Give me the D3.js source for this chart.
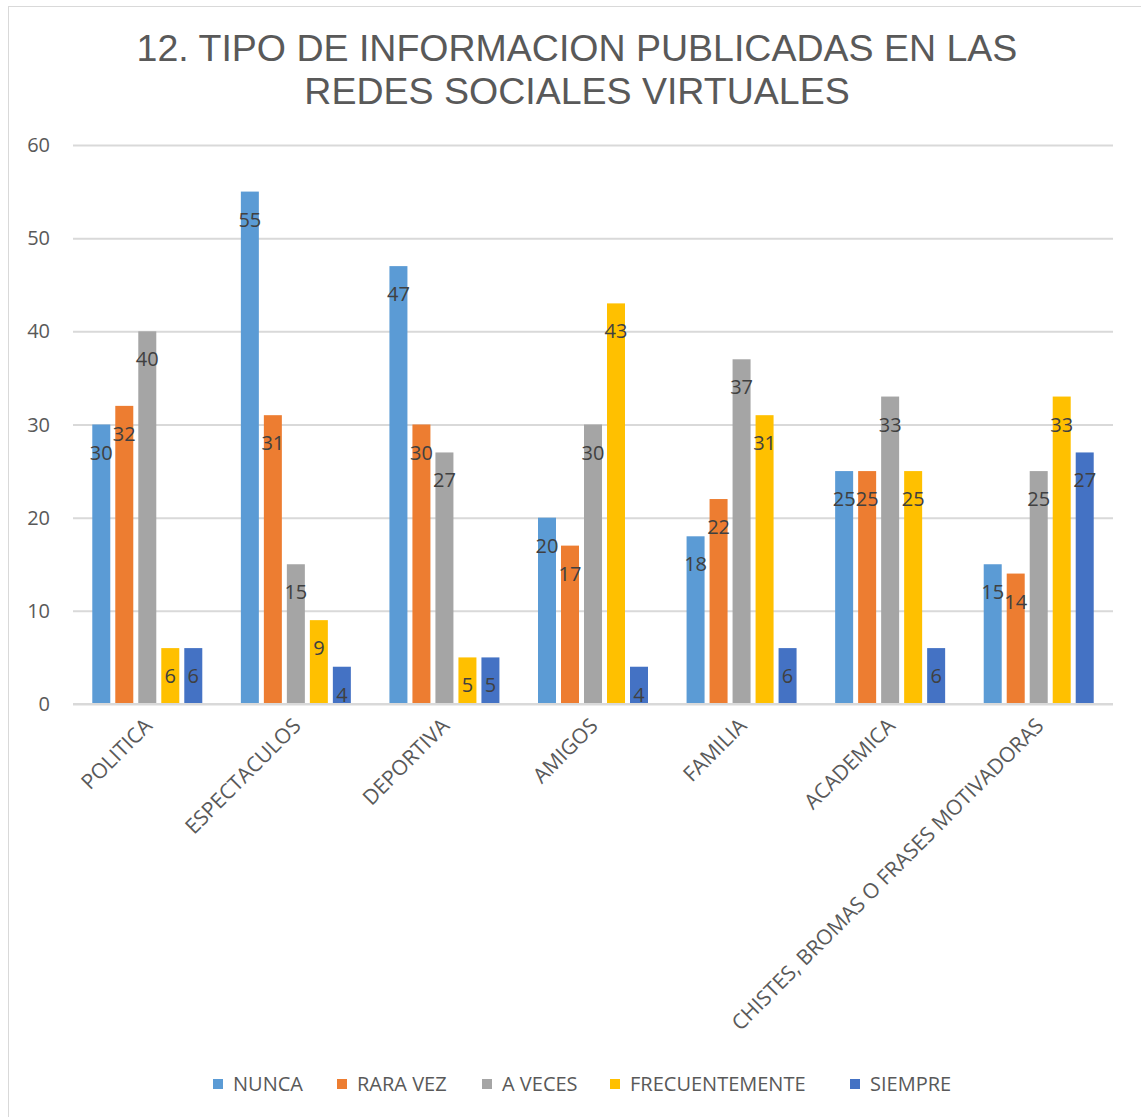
<!DOCTYPE html>
<html>
<head>
<meta charset="utf-8">
<script src="https://cdn.jsdelivr.net/npm/d3@7"></script>
<style>
  body { margin: 0; background: #fff; }
</style>
</head>
<body>
<svg id="chart" width="1141" height="1117"></svg>
<script>
var categories = ["POLITICA", "ESPECTACULOS", "DEPORTIVA", "AMIGOS", "FAMILIA", "ACADEMICA", "CHISTES, BROMAS O FRASES MOTIVADORAS"]
var seriesNames = ["NUNCA", "RARA VEZ", "A VECES", "FRECUENTEMENTE", "SIEMPRE"]
var nunca = [30, 55, 47, 20, 18, 25, 15]
var raraVez = [32, 31, 30, 17, 22, 25, 14]
var aVeces = [40, 15, 27, 30, 37, 33, 25]
var frecuentemente = [6, 9, 5, 43, 31, 25, 33]
var siempre = [6, 4, 5, 4, 6, 6, 27]
var yTicks = [0, 10, 20, 30, 40, 50, 60]
var colors = ["#5b9bd5", "#ed7d31", "#a5a5a5", "#ffc000", "#4472c4"]

var values = [nunca, raraVez, aVeces, frecuentemente, siempre]

var margin = { top: 145, left: 73, right: 28, bottom: 413 },
    width = 1141 - margin.left - margin.right,
    height = 1117 - margin.top - margin.bottom;

var svg = d3.select('#chart')
var font = "'Open Sans', 'Noto Sans', sans-serif"

// frame
svg.append("rect")
    .attr("x", 8.5).attr("y", 6.5)
    .attr("width", 1160).attr("height", 1140)
    .style("fill", "none").style("stroke", "#d9d9d9")

// title
var title = svg.append("text")
    .attr("text-anchor", "middle")
    .style("font-family", "'Liberation Sans', Arial, sans-serif")
    .style("font-size", "37.5px")
    .style("fill", "#595959")
title.append("tspan").attr("x", 577).attr("y", 61).text("12. TIPO DE INFORMACION PUBLICADAS EN LAS")
title.append("tspan").attr("x", 577).attr("y", 104).text("REDES SOCIALES VIRTUALES")

var x = d3.scaleBand().domain(categories).range([0, width])
var y = d3.scaleLinear().domain([0, 60]).range([height, 0])

var g = svg.append("g").attr("transform", "translate(" + margin.left + "," + margin.top + ")")

// gridlines
g.append("g")
    .call(d3.axisLeft(y).tickValues(yTicks).tickSize(-width).tickFormat(""))
    .call(s => s.select(".domain").remove())
    .selectAll("line")
    .style("stroke", "#d9d9d9").style("stroke-width", 2)

// y tick labels
g.selectAll(".ylab")
    .data(yTicks)
    .enter()
    .append("text")
    .attr("x", -23)
    .attr("y", d => y(d))
    .attr("dy", "0.35em")
    .attr("text-anchor", "end")
    .style("font-family", font)
    .style("font-size", "20px")
    .style("fill", "#595959")
    .text(d => d)

var step = 23, gap = 5
var groupW = step * 5 - gap
var x1 = d3.scaleBand().domain(seriesNames).range([0, groupW]).paddingInner(gap / step)

var groups = g.selectAll(".cat")
    .data(categories)
    .enter()
    .append("g")
    .attr("transform", d => "translate(" + (x(d) + x.bandwidth() / 2 - groupW / 2) + ",0)")

seriesNames.forEach(function(s, si) {
    groups.append("rect")
        .attr("x", x1(s))
        .attr("y", (d, i) => y(values[si][i]))
        .attr("width", x1.bandwidth())
        .attr("height", (d, i) => height - y(values[si][i]))
        .style("fill", colors[si])

    // value labels, inside end of bar
    groups.append("text")
        .attr("x", x1(s) + x1.bandwidth() / 2)
        .attr("y", (d, i) => y(values[si][i]) + 28)
        .attr("dy", "0.35em")
        .attr("text-anchor", "middle")
        .style("font-family", font)
        .style("font-size", "20px")
        .style("fill", "#404040")
        .text((d, i) => values[si][i])
})

// baseline
g.append("line")
    .attr("x1", 0).attr("x2", width)
    .attr("y1", height).attr("y2", height)
    .style("stroke", "#d9d9d9").style("stroke-width", 2)

// category labels
g.selectAll(".xlab")
    .data(categories)
    .enter()
    .append("text")
    .attr("transform", d => "translate(" + (x(d) + x.bandwidth() / 2 + 1) + "," + (height + 18) + ") rotate(-45)")
    .attr("text-anchor", "end")
    .attr("dy", "0.35em")
    .style("font-family", font)
    .style("font-size", "21px")
    .style("fill", "#595959")
    .text(d => d)

// legend
var legendX = [213, 337, 482, 610, 850]
seriesNames.forEach(function(s, i) {
    svg.append("rect").attr("x", legendX[i]).attr("y", 1079).attr("width", 10).attr("height", 10).style("fill", colors[i])
    svg.append("text")
        .attr("x", legendX[i] + 20).attr("y", 1084)
        .attr("dy", "0.35em")
        .style("font-family", font)
        .style("font-size", "20px")
        .style("fill", "#595959")
        .text(s)
})
</script>
</body>
</html>
